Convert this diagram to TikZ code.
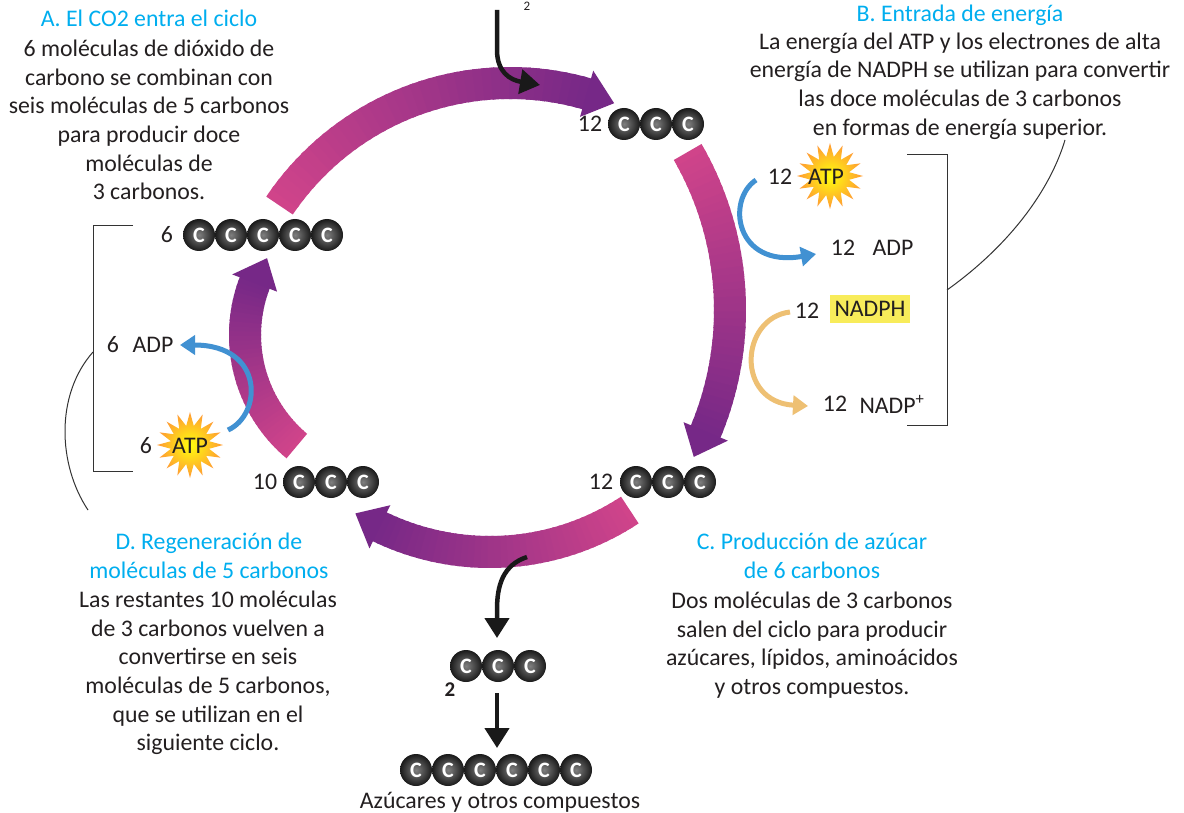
\documentclass[tikz,border=0pt]{standalone}
\usepackage{fontspec}
\setmainfont{Carlito}
\usetikzlibrary{arrows.meta,shapes.geometric}
\definecolor{ttl}{RGB}{0,174,239}
\definecolor{txt}{RGB}{35,31,32}
\definecolor{cpink}{RGB}{208,68,138}
\definecolor{cpurp}{RGB}{118,40,135}
\definecolor{barrow}{RGB}{65,145,210}
\definecolor{oarrow}{RGB}{238,192,115}
\definecolor{hl}{RGB}{248,236,90}
\newcommand{\cycarrow}[6]{%
 \begin{scope}[shift={(#1,#2)}]
  \pgfmathsetmacro\ro{#3+16}\pgfmathsetmacro\ri{#3-16}
  \pgfmathsetmacro\hro{#3+24}\pgfmathsetmacro\hri{#3-24}
  \foreach \i in {0,...,39}{
   \pgfmathsetmacro\ta{#4+(#5-#4)*\i/40}
   \pgfmathsetmacro\tb{#4+(#5-#4)*(\i+1.4)/40}
   \pgfmathtruncatemacro\pc{100-\i*2.5}
   \fill[cpink!\pc!cpurp] (\ta:\ro) arc[start angle=\ta,end angle=\tb,radius=\ro]
     -- (\tb:\ri) arc[start angle=\tb,end angle=\ta,radius=\ri] -- cycle;
  }
  \fill[cpurp] (#5:\hro) -- (#6:#3) -- (#5:\hri) -- cycle;
 \end{scope}}
\newcommand{\ballrow}[4]{%
 \foreach \k in {1,...,#4}{\node[ball] (#1\k) at ({#2+32*(\k-1)},#3) {C};}}
\begin{document}
\begin{tikzpicture}[x=1pt,y=1pt,
  every node/.style={text=txt,font=\fontsize{23.8}{28.6}\selectfont},
  body/.style={align=center,inner sep=0pt},
  title/.style={align=center,inner sep=0pt,text=ttl},
  lab/.style={inner sep=0pt},
  ball/.style={circle,minimum size=32pt,inner sep=0pt,shading=radial,
     inner color=black!50,outer color=black!90,text=white,
     font=\bfseries\fontsize{22}{22}\selectfont},
  burst/.style={star,star points=16,star point ratio=1.7,minimum size=66pt,inner sep=0pt,
     shading=radial,inner color=yellow!95!white,outer color=orange!80},
  blk/.style={line width=4.5pt,draw=black!90,-{Triangle[length=20pt,width=24pt]}},
  blu/.style={line width=5pt,draw=barrow,-{Triangle[length=15pt,width=19pt]}},
  ora/.style={line width=5pt,draw=oarrow,-{Triangle[length=15pt,width=19pt]}},
  brk/.style={draw=black!80,line width=1pt}]
\useasboundingbox (0,0) rectangle (1184,-813);
\fill[white] (0,0) rectangle (1184,-813);

% cycle arrows
\cycarrow{510}{-361}{278}{146}{74}{68}
\cycarrow{414}{-310}{316}{30}{-22.6}{-27.7}
\cycarrow{490}{-298}{254}{-56.6}{-115.7}{-122}
\cycarrow{390}{-335}{145}{230}{159}{148}

% CO2 input
\node[lab,font=\fontsize{13}{13}\selectfont] (co2) at (527,-6) {2};
\coordinate (co2s) at (497,-10);
\coordinate (co2e) at (540,-85);
\draw[blk] (co2s) -- (497,-50) .. controls (497,-72) and (510,-80) .. (co2e);

% carbon rows
\node[lab] (n12t) at (590,-124) {12};
\ballrow{bt}{624}{-124}{3}
\node[lab] (n6) at (167,-235) {6};
\ballrow{bl}{199}{-235}{5}
\node[lab] (n10) at (265,-482) {10};
\ballrow{bb}{299}{-482}{3}
\node[lab] (n12b) at (601,-482) {12};
\ballrow{br}{636}{-482}{3}
\ballrow{bo}{466}{-666}{3}
\node[lab,font=\bfseries\fontsize{21}{21}\selectfont] (n2) at (450,-690) {2};
\ballrow{bs}{416}{-770}{6}
\node[lab] (azu) at (500,-802) {Azúcares y otros compuestos};

% output arrows
\coordinate (outs) at (527,-557);
\draw[blk] (outs) .. controls (503,-565) and (497,-585) .. (497,-610) -- (497,-638);
\draw[blk] (497,-693) -- (497,-748);

% right energy input
\node[burst] (atpR) at (830,-176) {};
\node[lab] (atpRt) at (826,-177) {ATP};
\node[lab] (n12atp) at (780,-177) {12};
\node[lab] (n12adp) at (843,-248) {12};
\node[lab] (adpR) at (893,-248) {ADP};
\draw[blu] (756,-180) .. controls (726,-200) and (735,-268) .. (816,-254);
\node[lab] (n12nadph) at (807,-311) {12};
\node[fill=hl,inner xsep=5pt,inner ysep=6pt] (nadph) at (870,-309) {NADPH};
\node[lab] (n12nadp) at (835,-404) {12};
\node[lab] (nadp) at (892,-404) {NADP\textsuperscript{+}};
\draw[ora] (790,-312) .. controls (740,-318) and (735,-402) .. (808,-406);

% left energy input
\node[burst] (atpL) at (190,-445) {};
\node[lab] (atpLt) at (190,-446) {ATP};
\node[lab] (n6atp) at (146,-446) {6};
\node[lab] (n6adp) at (113,-345) {6};
\node[lab] (adpL) at (153,-345) {ADP};
\draw[blu] (228,-430) .. controls (262,-415) and (265,-345) .. (180,-345);

% brackets
\draw[brk] (907,-155) -- (947,-155) -- (947,-425) -- (907,-425);
\coordinate (brR) at (947,-290);
\coordinate (brRe) at (1065,-140);
\draw[brk] (brR) .. controls (1010,-245) and (1050,-190) .. (brRe);
\draw[brk] (133,-226) -- (93,-226) -- (93,-471) -- (133,-471);
\coordinate (brL) at (93,-352);
\coordinate (brLe) at (88,-510);
\draw[brk] (brL) .. controls (55,-395) and (58,-465) .. (brLe);

% text blocks
\node[title] (tA) at (149,-18) {A. El CO2 entra el ciclo};
\node[body] (bA) at (149,-120) {6 moléculas de dióxido de\\carbono se combinan con\\seis moléculas de 5 carbonos\\para producir doce\\moléculas de\\3 carbonos.};
\node[title] (tB) at (960,-15) {B. Entrada de energía};
\node[body] (bB) at (960,-86) {La energía del ATP y los electrones de alta\\energía de NADPH se utilizan para convertir\\las doce moléculas de 3 carbonos\\en formas de energía superior.};
\node[title] (tC) at (812,-556) {C. Producción de azúcar\\de 6 carbonos};
\node[body] (bC) at (812,-645) {Dos moléculas de 3 carbonos\\salen del ciclo para producir\\azúcares, lípidos, aminoácidos\\y otros compuestos.};
\node[title] (tD) at (209,-556) {D. Regeneración de\\moléculas de 5 carbonos};
\node[body] (bD) at (208,-673) {Las restantes 10 moléculas\\de 3 carbonos vuelven a\\convertirse en seis\\moléculas de 5 carbonos,\\que se utilizan en el\\siguiente ciclo.};
\end{tikzpicture}
\end{document}
